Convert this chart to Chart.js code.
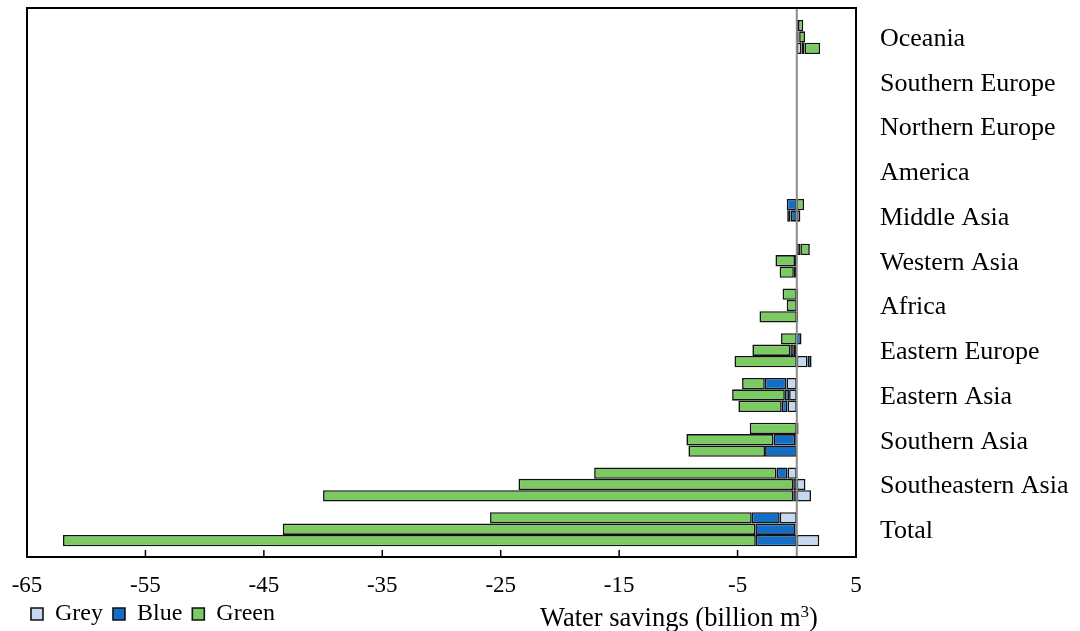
<!DOCTYPE html>
<html><head><meta charset="utf-8">
<script src="https://cdn.jsdelivr.net/npm/chart.js@4"></script>
<style>html,body{margin:0;padding:0;background:#fff;}</style>
</head><body>
<canvas id="c" width="1080" height="631"></canvas>
<script>
const categories = ['Oceania','Southern Europe','Northern Europe','America','Middle Asia','Western Asia','Africa','Eastern Europe','Eastern Asia','Southern Asia','Southeastern Asia','Total'];
const xTicks = [-65,-55,-45,-35,-25,-15,-5,5];
const legendNames = ['Grey','Blue','Green'];
// Scenario A (top bar of each group)
const greyA  = [0.10, 0, 0, 0, 0, 0, 0, 0, -0.87, 0, -0.79, -1.44];
const blueA  = [0, 0, 0, 0, -0.85, 0.30, 0.12, 0.40, -1.83, 0.15, -0.92, -2.36];
const greenA = [0.45, -0.04, -0.04, -0.04, 0.62, 0.80, -1.20, -1.33, -1.92, -3.97, -15.4, -22.1];
// Scenario B (middle bar)
const greyB  = [0.15, 0, 0, 0, 0.30, 0, 0, -0.25, -0.65, -0.14, 0.73, -0.10];
const blueB  = [0.05, 0, 0, 0, -0.53, -0.15, 0.12, -0.30, -0.36, -1.83, -0.30, -3.40];
const greenB = [0.50, -0.04, -0.04, -0.04, -0.28, -1.65, -0.85, -3.20, -4.45, -7.35, -23.2, -39.9];
// Scenario C (bottom bar)
const greyC  = [0.40, 0, 0, 0, 0, -0.25, 0, 0.90, -0.79, 0, 1.20, 1.90];
const blueC  = [0.25, 0, 0, 0, 0, 0, 0.12, 0.35, -0.48, -2.68, -0.30, -3.46];
const greenC = [1.32, -0.04, -0.04, -0.04, 0, -1.20, -3.15, -5.26, -3.66, -6.47, -39.7, -58.5];

const colors = {Grey:'#C6D9F1', Blue:'#136FC6', Green:'#7CCB62'};
const series = [
  ['A', [greyA, blueA, greenA]],
  ['B', [greyB, blueB, greenB]],
  ['C', [greyC, blueC, greenC]]
];
const datasets = [];
series.forEach(([stack, arrs]) => {
  arrs.forEach((arr, i) => {
    const name = legendNames[i];
    datasets.push({
      label: name, data: arr, stack: stack,
      backgroundColor: colors[name], borderColor: '#111', borderWidth: 1.6,
      borderSkipped: false,
      categoryPercentage: 0.76, barPercentage: 1.0
    });
  });
});

const FONT = '"Liberation Serif", "Times New Roman", serif';

const framePlugin = {
  id: 'frame',
  afterDatasetsDraw(chart) {
    const ctx = chart.ctx, xs = chart.scales.x, ca = chart.chartArea;
    const L = ca.left, R = ca.right, T = ca.top - 6.6, B = ca.bottom + 5.4;
    ctx.save();
    const z = xs.getPixelForValue(0);
    ctx.strokeStyle = '#8c8c8c'; ctx.lineWidth = 2;
    ctx.beginPath(); ctx.moveTo(z, T); ctx.lineTo(z, B); ctx.stroke();
    ctx.strokeStyle = '#000'; ctx.lineWidth = 2;
    ctx.strokeRect(L, T, R - L, B - T);
    ctx.lineWidth = 1.5;
    xTicks.forEach(v => {
      const p = xs.getPixelForValue(v);
      ctx.beginPath(); ctx.moveTo(p, B); ctx.lineTo(p, B - 7); ctx.stroke();
    });
    // x-axis title with superscript
    ctx.fillStyle = '#000';
    ctx.textAlign = 'left'; ctx.textBaseline = 'alphabetic';
    let x = 540; const base = 626;
    ctx.font = '26.5px ' + FONT;
    const t1 = 'Water savings (billion m';
    ctx.fillText(t1, x, base); x += ctx.measureText(t1).width;
    ctx.font = '17px ' + FONT;
    ctx.fillText('3', x, base - 9); x += ctx.measureText('3').width;
    ctx.font = '26.5px ' + FONT;
    ctx.fillText(')', x, base);
    ctx.restore();
  }
};

new Chart(document.getElementById('c'), {
  type: 'bar',
  data: { labels: categories, datasets },
  options: {
    indexAxis: 'y',
    responsive: false,
    animation: false,
    layout: { padding: { left: 21, right: 0, top: 14.6, bottom: -5 } },
    scales: {
      x: {
        type: 'linear', stacked: true, min: -65, max: 5,
        afterBuildTicks(s) { s.ticks = xTicks.map(v => ({value: v})); },
        afterFit(s) { s.height = 40.4; s.paddingLeft = 27; s.paddingRight = 0; },
        grid: { display: false, drawTicks: false },
        border: { display: false },
        ticks: { font: { family: FONT, size: 23 }, color: '#000', padding: 21, maxRotation: 0 }
      },
      y: {
        position: 'right', stacked: true,
        afterFit(s) { s.width = 224; s.paddingTop = 0; s.paddingBottom = 0; },
        grid: { display: false, drawTicks: false },
        border: { display: false },
        ticks: { font: { family: FONT, size: 26 }, color: '#000', padding: 24, crossAlign: 'near', labelOffset: 2 }
      }
    },
    plugins: {
      legend: {
        position: 'bottom', align: 'start',
        labels: {
          filter: (item) => item.datasetIndex < 3,
          font: { family: FONT, size: 24 }, color: '#000',
          boxWidth: 12, boxHeight: 12, padding: 10
        }
      },
      tooltip: { enabled: false }
    }
  },
  plugins: [framePlugin]
});
</script>
</body></html>
